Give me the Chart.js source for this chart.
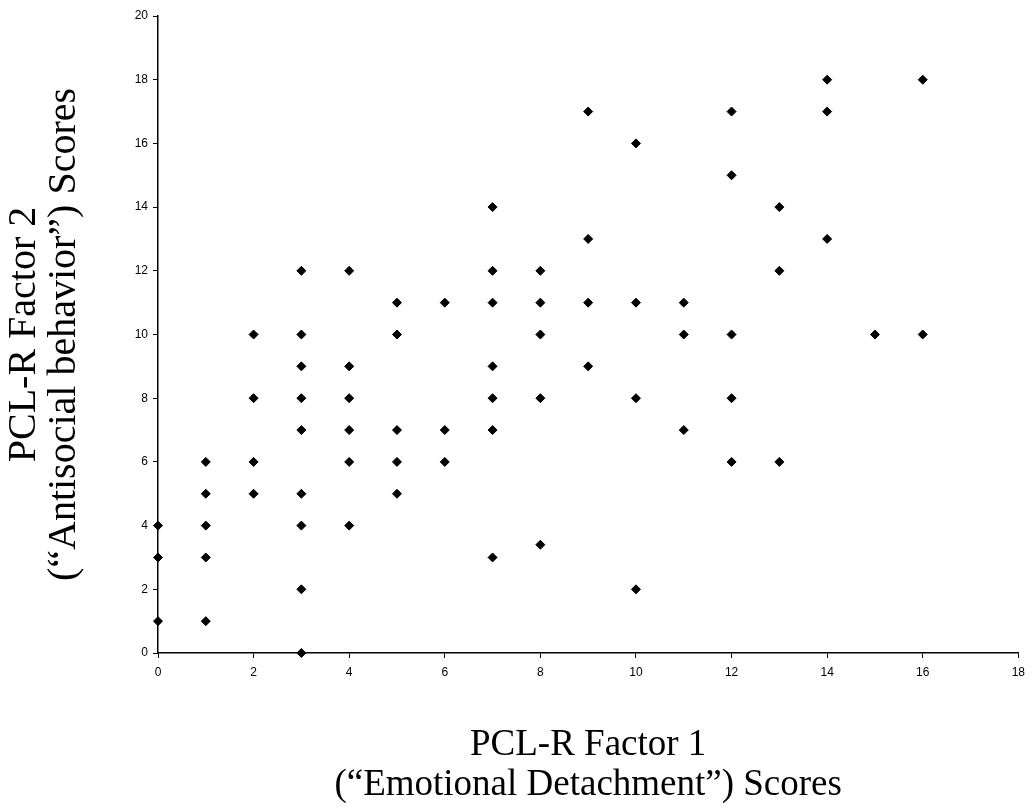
<!DOCTYPE html>
<html>
<head>
<meta charset="utf-8">
<script src="https://cdn.jsdelivr.net/npm/chart.js@4"></script>
<style>
  html, body { margin: 0; padding: 0; background: #fff; }
  #wrap { width: 1032px; height: 809px; }
</style>
</head>
<body>
<div id="wrap"><canvas id="c" width="1032" height="809"></canvas></div>
<script>
// Factor 1 scores (x) and Factor 2 scores (y)
const factor1 = [
  0, 0, 0,
  1, 1, 1, 1, 1,
  2, 2, 2, 2,
  3, 3, 3, 3, 3, 3, 3, 3, 3,
  4, 4, 4, 4, 4, 4,
  5, 5, 5, 5, 5,
  6, 6, 6,
  7, 7, 7, 7, 7, 7, 7,
  8, 8, 8, 8, 8,
  9, 9, 9, 9,
  10, 10, 10, 10,
  11, 11, 11,
  12, 12, 12, 12, 12,
  13, 13, 13,
  14, 14, 14,
  15,
  16, 16
];
const factor2 = [
  4, 3, 1,
  6, 5, 4, 3, 1,
  10, 8, 6, 5,
  12, 10, 9, 8, 7, 5, 4, 2, 0,
  12, 9, 8, 7, 6, 4,
  11, 10, 7, 6, 5,
  11, 7, 6,
  14, 12, 11, 9, 8, 7, 3,
  12, 11, 10, 8, 3.4,
  17, 13, 11, 9,
  16, 11, 8, 2,
  11, 10, 7,
  17, 15, 10, 8, 6,
  14, 12, 6,
  18, 17, 13,
  10,
  18, 10
];
const xTitle = ['PCL-R Factor 1', '(\u201CEmotional Detachment\u201D) Scores'];
const yTitle = ['PCL-R Factor 2', '(\u201CAntisocial behavior\u201D) Scores'];
const xRange = [0, 18];
const yRange = [0, 20];
const tickStep = 2;

const points = factor1.map((x, i) => ({ x: x, y: factor2[i] }));

new Chart(document.getElementById('c'), {
  type: 'scatter',
  data: {
    datasets: [{
      data: points,
      pointStyle: 'rectRot',
      pointRadius: 4.5,
      pointHoverRadius: 4.5,
      backgroundColor: '#000',
      borderColor: '#000',
      borderWidth: 1,
      clip: false
    }]
  },
  options: {
    responsive: false,
    animation: false,
    devicePixelRatio: 1,
    layout: { padding: { top: 16, right: 12, bottom: 0, left: 0 } },
    plugins: { legend: { display: false }, tooltip: { enabled: false } },
    scales: {
      x: {
        type: 'linear',
        min: xRange[0], max: xRange[1],
        afterFit: (a) => { a.height = 156; },
        border: { display: true, color: '#000', width: 1.5 },
        grid: { drawOnChartArea: false, drawTicks: true, tickLength: 5, color: '#000', lineWidth: 1 },
        ticks: { stepSize: tickStep, color: '#000', padding: 7, maxRotation: 0,
                 font: { family: 'Liberation Sans, Arial, sans-serif', size: 12 } },
        title: { display: true, text: xTitle, color: '#000',
                 padding: { top: 0, bottom: 4 },
                 font: { family: 'Liberation Serif, Times New Roman, serif', size: 37, lineHeight: 1.08 } }
      },
      y: {
        type: 'linear',
        min: yRange[0], max: yRange[1],
        afterFit: (a) => { a.width = 158; },
        border: { display: true, color: '#000', width: 1.5 },
        grid: { drawOnChartArea: false, drawTicks: true, tickLength: 5, color: '#000', lineWidth: 1 },
        ticks: { stepSize: tickStep, color: '#000', padding: 5,
                 font: { family: 'Liberation Sans, Arial, sans-serif', size: 12 } },
        title: { display: true, text: yTitle, color: '#000',
                 padding: { top: 4, bottom: 0 },
                 font: { family: 'Liberation Serif, Times New Roman, serif', size: 40, lineHeight: 1.0 } }
      }
    }
  }
});
</script>
</body>
</html>
